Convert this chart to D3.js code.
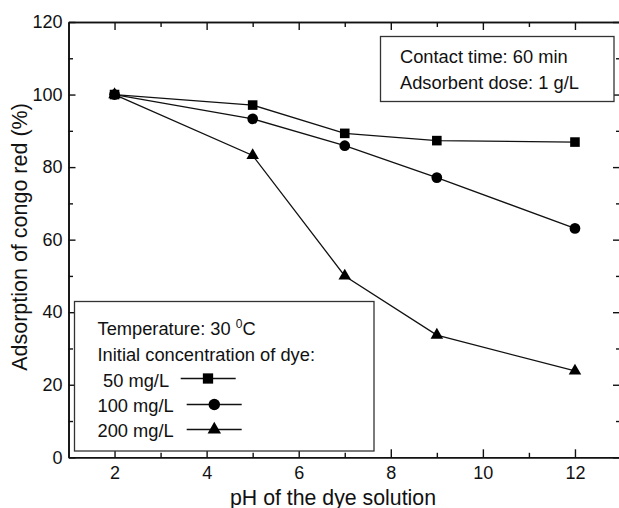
<!DOCTYPE html>
<html>
<head>
<meta charset="utf-8">
<script src="https://cdn.jsdelivr.net/npm/d3@7/dist/d3.min.js"></script>
<style>
  html, body { margin: 0; padding: 0; background: #fff; }
  svg { display: block; font-family: "Liberation Sans", Arial, sans-serif; }
</style>
</head>
<body>
<svg id="chart" width="619" height="508"></svg>
<script>
// pH values tested
const phValues = [2, 5, 7, 9, 12];

// Adsorption of congo red (%) at each initial dye concentration
const ads50 = [100, 97.1, 89.3, 87.3, 86.9];
const ads100 = [100, 93.3, 85.9, 77.1, 63.1];
const ads200 = [100, 83.2, 50.0, 33.7, 23.8];

const seriesLabels = ["50 mg/L", "100 mg/L", "200 mg/L"];
const seriesSymbols = [d3.symbolSquare, d3.symbolCircle, d3.symbolTriangle];
const seriesSizes = [92, 90, 68];

const xMajorTicks = [2, 4, 6, 8, 10, 12];
const xMinorTicks = [3, 5, 7, 9, 11];
const yMajorTicks = [0, 20, 40, 60, 80, 100, 120];
const yMinorTicks = [10, 30, 50, 70, 90, 110];

const svg = d3.select("#chart");
const ink = "#111";

const plot = { left: 68.5, right: 621, top: 22, bottom: 457.3 };

const x = d3.scaleLinear().domain([1, 13]).range([plot.left, plot.right]);
const y = d3.scaleLinear().domain([0, 120]).range([plot.bottom, plot.top]);

function styleAxis(g, showText) {
  g.select(".domain").attr("stroke", ink).attr("stroke-width", 1.6);
  g.selectAll(".tick line").attr("stroke", ink).attr("stroke-width", 1.4);
  g.selectAll(".tick text")
    .attr("fill", ink)
    .attr("font-size", 18)
    .attr("font-family", "Liberation Sans, Arial, sans-serif")
    .style("display", showText ? null : "none");
}

// bottom axis: labelled majors, inward ticks
const gxb = svg.append("g").attr("transform", `translate(0,${plot.bottom})`)
  .call(d3.axisBottom(x).tickValues(xMajorTicks).tickSizeInner(-8).tickSizeOuter(0).tickFormat(d3.format("d")));
styleAxis(gxb, true);
gxb.selectAll(".tick text").attr("y", 9).attr("dy", "0.71em");
const gxbm = svg.append("g").attr("transform", `translate(0,${plot.bottom})`)
  .call(d3.axisBottom(x).tickValues(xMinorTicks).tickSizeInner(-4.5).tickSizeOuter(0).tickFormat(""));
styleAxis(gxbm, false);

// top axis
const gxt = svg.append("g").attr("transform", `translate(0,${plot.top})`)
  .call(d3.axisTop(x).tickValues(xMajorTicks).tickSizeInner(-8).tickSizeOuter(0).tickFormat(""));
styleAxis(gxt, false);
const gxtm = svg.append("g").attr("transform", `translate(0,${plot.top})`)
  .call(d3.axisTop(x).tickValues(xMinorTicks).tickSizeInner(-5).tickSizeOuter(0).tickFormat(""));
styleAxis(gxtm, false);

// left axis: labelled majors
const gyl = svg.append("g").attr("transform", `translate(${plot.left},0)`)
  .call(d3.axisLeft(y).tickValues(yMajorTicks).tickSizeInner(-7).tickSizeOuter(0).tickFormat(d3.format("d")));
styleAxis(gyl, true);
gyl.selectAll(".tick text").attr("x", -6);
const gylm = svg.append("g").attr("transform", `translate(${plot.left},0)`)
  .call(d3.axisLeft(y).tickValues(yMinorTicks).tickSizeInner(-4.5).tickSizeOuter(0).tickFormat(""));
styleAxis(gylm, false);

// right axis
const gyr = svg.append("g").attr("transform", `translate(${plot.right},0)`)
  .call(d3.axisRight(y).tickValues(yMajorTicks).tickSizeInner(-8).tickSizeOuter(0).tickFormat(""));
styleAxis(gyr, false);
const gyrm = svg.append("g").attr("transform", `translate(${plot.right},0)`)
  .call(d3.axisRight(y).tickValues(yMinorTicks).tickSizeInner(-5).tickSizeOuter(0).tickFormat(""));
styleAxis(gyrm, false);

// axis titles
svg.append("text")
  .attr("x", 333)
  .attr("y", 504.5)
  .attr("text-anchor", "middle")
  .attr("font-size", 21.3)
  .attr("fill", ink)
  .text("pH of the dye solution");

svg.append("text")
  .attr("transform", "translate(27,237) rotate(-90)")
  .attr("text-anchor", "middle")
  .attr("font-size", 21.5)
  .attr("fill", ink)
  .text("Adsorption of congo red (%)");

// data series: connecting lines, then markers
const allSeries = [ads50, ads100, ads200];
const line = d3.line().x((d, i) => x(phValues[i])).y(d => y(d));

allSeries.forEach(vals => {
  svg.append("path")
    .datum(vals)
    .attr("d", line)
    .attr("fill", "none")
    .attr("stroke", ink)
    .attr("stroke-width", 1.3);
});
allSeries.forEach((vals, s) => {
  svg.append("g").selectAll("path")
    .data(vals)
    .join("path")
    .attr("transform", (d, i) => `translate(${x(phValues[i])},${y(d)})`)
    .attr("d", d3.symbol().type(seriesSymbols[s]).size(seriesSizes[s]))
    .attr("fill", "#000");
});

// condition box (top right)
svg.append("rect")
  .attr("x", 380.5).attr("y", 36.5)
  .attr("width", 233.5).attr("height", 65)
  .attr("fill", "#fff")
  .attr("stroke", "#333")
  .attr("stroke-width", 1.3);
svg.append("text").attr("x", 400).attr("y", 63).attr("font-size", 18.3).attr("fill", ink)
  .text("Contact time: 60 min");
svg.append("text").attr("x", 400).attr("y", 88.5).attr("font-size", 18.3).attr("fill", ink)
  .text("Adsorbent dose: 1 g/L");

// legend box (bottom left)
svg.append("rect")
  .attr("x", 74.5).attr("y", 301.5)
  .attr("width", 299.5).attr("height", 149.5)
  .attr("fill", "#fff")
  .attr("stroke", "#333")
  .attr("stroke-width", 1.3);

const temp = svg.append("text").attr("x", 97.5).attr("y", 335).attr("font-size", 18.3).attr("fill", ink);
temp.append("tspan").text("Temperature: 30 ");
temp.append("tspan").attr("font-size", 12).attr("dy", -7).text("0");
temp.append("tspan").attr("dy", 7).text("C");

svg.append("text").attr("x", 97.5).attr("y", 361).attr("font-size", 18.3).attr("fill", ink)
  .text("Initial concentration of dye:");

const legendRows = [
  { textX: 103, base: 386.5, lx0: 180.7, lx1: 235.7, ly: 378.5, mx: 208 },
  { textX: 97.5, base: 412, lx0: 186.7, lx1: 241.7, ly: 404.5, mx: 214.3 },
  { textX: 97.5, base: 437, lx0: 186.7, lx1: 241.7, ly: 429.5, mx: 214.3 }
];
legendRows.forEach((r, s) => {
  svg.append("text").attr("x", r.textX).attr("y", r.base).attr("font-size", 18.3).attr("fill", ink)
    .text(seriesLabels[s]);
  svg.append("line")
    .attr("x1", r.lx0).attr("x2", r.lx1).attr("y1", r.ly).attr("y2", r.ly)
    .attr("stroke", ink).attr("stroke-width", 1.3);
  svg.append("path")
    .attr("transform", `translate(${r.mx},${r.ly})`)
    .attr("d", d3.symbol().type(seriesSymbols[s]).size(seriesSizes[s] * 1.15))
    .attr("fill", "#000");
});
</script>
</body>
</html>
